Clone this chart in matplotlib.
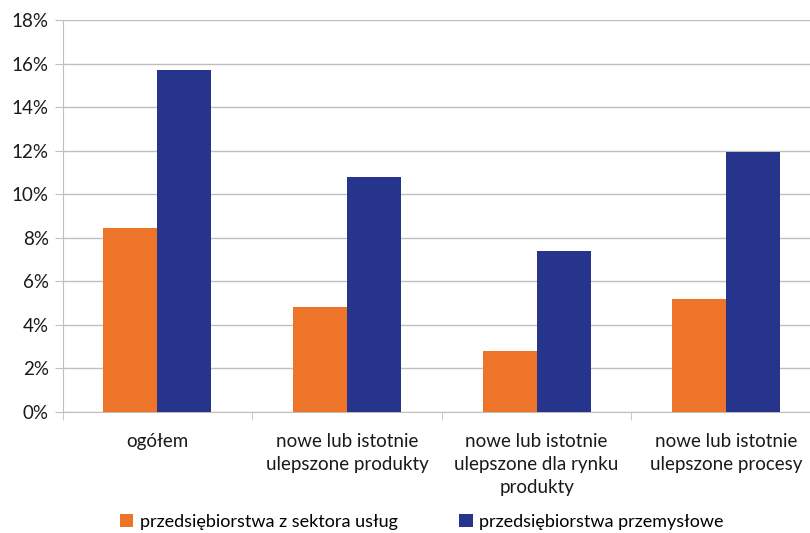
import matplotlib
matplotlib.use("Agg")
import matplotlib.pyplot as plt
import numpy as np
from matplotlib.ticker import FuncFormatter, MultipleLocator

categories = ["ogółem", "nowe lub istotnie\nulepszone produkty",
              "nowe lub istotnie\nulepszone dla rynku\nprodukty",
              "nowe lub istotnie\nulepszone procesy"]
uslugi = [8.45, 4.8, 2.82, 5.2]
przemysl = [15.72, 10.8, 7.37, 11.96]
series_names = ["przedsiębiorstwa z sektora usług", "przedsiębiorstwa przemysłowe"]
colors = ["#ED7428", "#27348B"]

plt.rcParams['font.family'] = ['Lato', 'DejaVu Sans']
fig = plt.figure(figsize=(8.1, 5.33), dpi=100)
ax = fig.add_axes([0.0772, 0.227, 0.9364, 0.7355])

x = np.arange(len(categories))
w = 0.285
ax.bar(x - w/2, uslugi, w, color=colors[0], label=series_names[0], zorder=3)
ax.bar(x + w/2, przemysl, w, color=colors[1], label=series_names[1], zorder=3)

ax.set_xlim(-0.5, len(categories) - 0.5)
ax.set_ylim(0, 18)
ax.yaxis.set_major_locator(MultipleLocator(2))
ax.yaxis.set_major_formatter(FuncFormatter(lambda v, p: f"{v:.0f}%"))
ax.grid(axis='y', color='#BFBFBF', linewidth=1, zorder=0)
for s in ['top', 'right']:
    ax.spines[s].set_visible(False)
for s in ['left', 'bottom']:
    ax.spines[s].set_color('#BFBFBF')
ax.set_xticks(x)
ax.set_xticklabels(categories, fontsize=13.5, color='#1a1a1a', linespacing=1.45)
ax.tick_params(axis='x', length=0, pad=15)
ax.set_xticks(np.arange(len(categories) + 1) - 0.5, minor=True)
ax.tick_params(axis='x', which='minor', length=6, color='#BFBFBF')
ax.tick_params(axis='y', length=6, color='#BFBFBF', labelsize=13.5, labelcolor='#1a1a1a', pad=4)

fig.legend(loc='lower left', bbox_to_anchor=(0.128, -0.025), ncol=2, frameon=False,
           fontsize=13, handlelength=0.75, handleheight=0.75, handletextpad=0.35,
           columnspacing=3.4)
fig.savefig("out.png", dpi=100)
